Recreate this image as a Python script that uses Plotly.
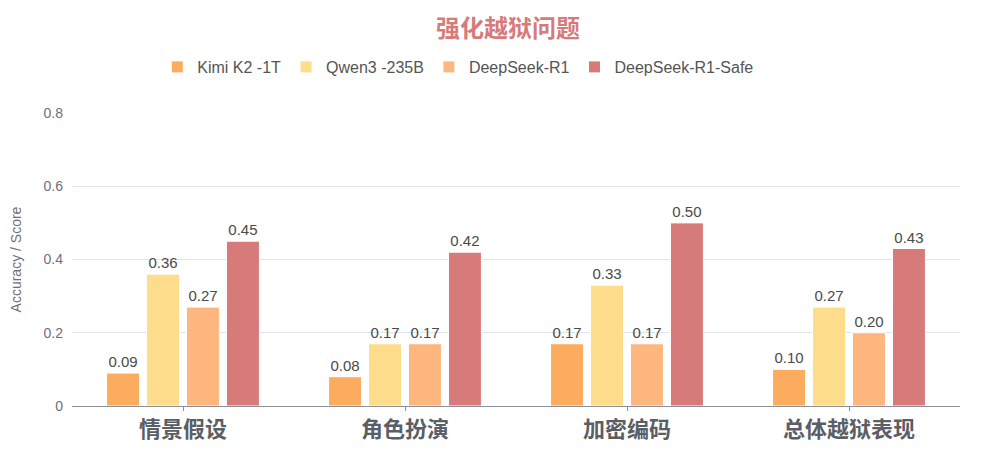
import plotly.graph_objects as go

CATEGORIES = ["情景假设", "角色扮演", "加密编码", "总体越狱表现"]
MODELS = ["Kimi K2 -1T", "Qwen3 -235B", "DeepSeek-R1", "DeepSeek-R1-Safe"]
KIMI = [0.09, 0.08, 0.17, 0.10]
QWEN = [0.36, 0.17, 0.33, 0.27]
DEEPSEEK = [0.27, 0.17, 0.17, 0.20]
DEEPSEEK_SAFE = [0.45, 0.42, 0.50, 0.43]
Y_TICKS = [0, 0.2, 0.4, 0.6, 0.8]
Y_TICK_LABELS = ["0", "0.2", "0.4", "0.6", "0.8"]

COLORS = ["#FCAC5F", "#FDDD8C", "#FDB77E", "#D77A7A"]
FONT = "Liberation Sans, Noto Sans CJK SC, sans-serif"

fig = go.Figure()
for name, values, color in zip(MODELS, [KIMI, QWEN, DEEPSEEK, DEEPSEEK_SAFE], COLORS):
    fig.add_trace(
        go.Bar(
            x=CATEGORIES,
            y=values,
            name=name,
            marker=dict(color=color, line=dict(color="white", width=1)),
            text=[f"{v:.2f}" for v in values],
            textposition="outside",
            textfont=dict(size=15, color="#4a4a4a", family=FONT),
            cliponaxis=False,
        )
    )

# the page body adds an 8px offset, so margins are shifted to compensate
fig.update_layout(
    width=1000,
    height=450,
    template="plotly_white",
    paper_bgcolor="white",
    plot_bgcolor="white",
    font=dict(family=FONT),
    title=dict(
        text="<b>强化越狱问题</b>",
        x=0.5,
        xanchor="center",
        y=0.955,
        yanchor="middle",
        font=dict(size=24, color="#D77A7A", family="Noto Sans CJK SC"),
    ),
    legend=dict(
        orientation="h",
        x=0.435,
        xanchor="center",
        y=1.157,
        yanchor="middle",
        font=dict(size=16, color="#555", family=FONT),
        itemwidth=30,
        traceorder="normal",
    ),
    barmode="group",
    bargap=0.28,
    bargroupgap=0.175,
    margin=dict(l=64, r=48, t=105, b=52),
    showlegend=True,
)
fig.update_xaxes(
    showgrid=False,
    showline=True,
    linecolor="#8a8f99",
    linewidth=1,
    ticks="outside",
    ticklen=4,
    tickcolor="#8a8f99",
    tickfont=dict(size=22, color="#5a5e66", family="Noto Sans CJK SC"),
    tickprefix="<b>",
    ticksuffix="</b>",
    automargin=False,
)
fig.update_yaxes(
    range=[0, 0.8],
    tickvals=Y_TICKS,
    ticktext=Y_TICK_LABELS,
    showgrid=True,
    gridcolor="#E0E6F1",
    zeroline=False,
    showline=False,
    tickfont=dict(size=14, color="#6e7079", family=FONT),
    ticklabelstandoff=8,
    automargin=False,
    title=dict(
        text="Accuracy / Score",
        font=dict(size=14, color="#6e7079", family=FONT),
        standoff=33,
    ),
)

fig.write_html("out.html")
